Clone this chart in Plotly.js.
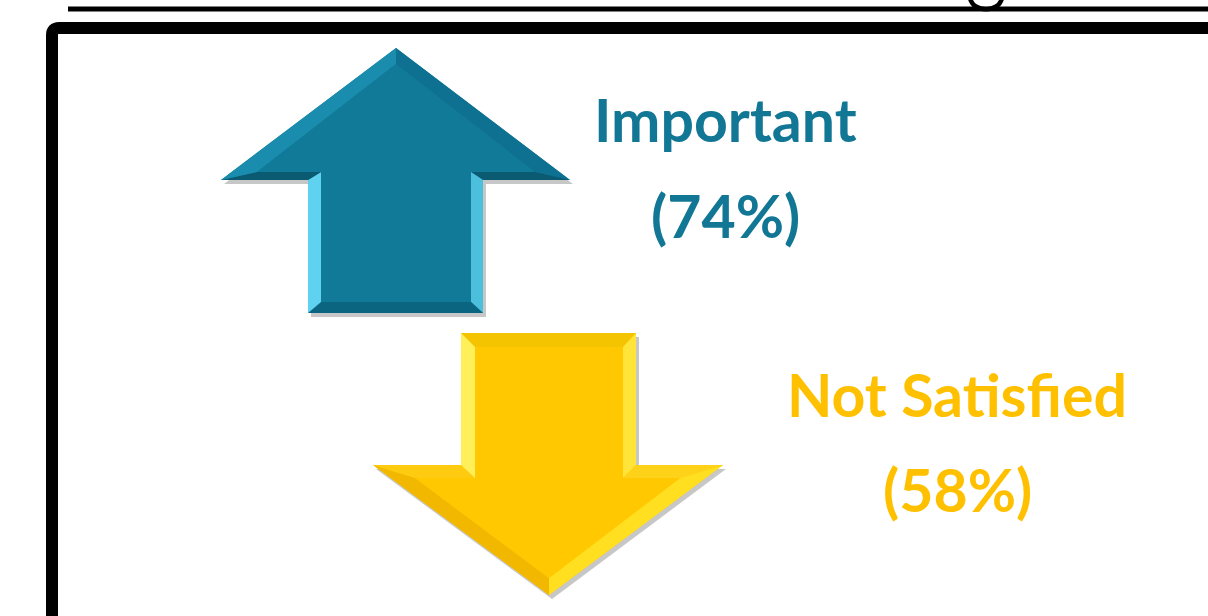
<!DOCTYPE html>
<html>
<head>
<meta charset="utf-8">
<script src="https://cdn.plot.ly/plotly-3.0.1.min.js"></script>
<style>html,body{margin:0;padding:0;background:#fff;}#chart{width:1208px;height:616px;}</style>
</head>
<body>
<div id="chart"></div>
<script>
// ---- data ----
const categories = ["Important", "Not Satisfied"];
const percents = [74, 58];
const directions = ["up", "down"];

// ---- layout / style (pixel space: x 0..1208, y 0..616 top-down) ----
const textColors = ["#127795", "#FFC000"];
const labelX = [725, 957];
const labelY = [119, 394];
const pctY = [215, 489];
const FONT = "Lato, 'Open Sans', sans-serif";
const FONT_SIZE = 59;

// arrow geometry: outer & inner (bevel) polygons
const upOuter = [[396,48],[570,180],[483,180],[483,313],[308,313],[308,180],[221,180]];
const upInner = [[396,64],[535,172],[471,172],[471,302],[321,302],[321,172],[257,172]];
const upFacetColors = ["#0f7191","#0a5a72","#4cbfdc","#0c6580","#5fd2ef","#0a5a72","#1a8cae"];
const upBase = "#117A99";

const dnOuter = [[461,333],[636,333],[636,465],[723,465],[549,595],[373,465],[461,465]];
const dnInner = [[475,347],[623,347],[623,478],[680,478],[549,578],[415,478],[475,478]];
const dnFacetColors = ["#F5C400","#FFE53A","#FFD21A","#FFDF20","#F2B800","#FFCB10","#FFF05A"];
const dnBase = "#FFC800";

function poly(pts, dx=0, dy=0){
  return "M " + pts.map(p => (p[0]+dx)+","+(p[1]+dy)).join(" L ") + " Z";
}
function arrowShapes(outer, inner, colors, base){
  const s = [];
  s.push({type:"path", xref:"x", yref:"y", path: poly(outer,3,4), fillcolor:"rgba(0,0,0,0.22)", line:{width:0}, layer:"above"});
  s.push({type:"path", xref:"x", yref:"y", path: poly(outer), fillcolor:base, line:{width:0}, layer:"above"});
  const n = outer.length;
  for (let i=0;i<n;i++){
    const j=(i+1)%n;
    s.push({type:"path", xref:"x", yref:"y",
      path: poly([outer[i],outer[j],inner[j],inner[i]]),
      fillcolor: colors[i], line:{width:0}, layer:"above"});
  }
  s.push({type:"path", xref:"x", yref:"y", path: poly(inner), fillcolor:base, line:{width:0}, layer:"above"});
  return s;
}

let shapes = [];
// top rule line
shapes.push({type:"line", xref:"x", yref:"y", x0:68, x1:1215, y0:9, y1:9, line:{color:"#000", width:5}, layer:"above"});
// descender of clipped title glyph
shapes.push({type:"path", xref:"x", yref:"y", path:"M 970,-2 C 973,13 999,13 1002,-2", line:{color:"#000", width:4.5}, fillcolor:"rgba(0,0,0,0)", layer:"above"});
// frame
shapes.push({type:"path", xref:"x", yref:"y", path:"M 52,640 L 52,35 Q 52,28 59,28 L 1230,28", line:{color:"#000", width:12}, fillcolor:"rgba(0,0,0,0)", layer:"above"});

directions.forEach(d => {
  if (d === "up") shapes = shapes.concat(arrowShapes(upOuter, upInner, upFacetColors, upBase));
  else shapes = shapes.concat(arrowShapes(dnOuter, dnInner, dnFacetColors, dnBase));
});

const annotations = [];
categories.forEach((c,i) => {
  annotations.push({xref:"x", yref:"y", x:labelX[i], y:labelY[i], text:"<b>"+c+"</b>", showarrow:false,
    xanchor:"center", yanchor:"middle", font:{family:FONT, size:FONT_SIZE, color:textColors[i]}});
  annotations.push({xref:"x", yref:"y", x:labelX[i], y:pctY[i], text:"<b>("+percents[i]+"%)</b>", showarrow:false,
    xanchor:"center", yanchor:"middle", font:{family:FONT, size:FONT_SIZE, color:textColors[i]}});
});

const layout = {
  width:1208, height:616,
  margin:{l:0,r:0,t:0,b:0,pad:0},
  paper_bgcolor:"#ffffff", plot_bgcolor:"#ffffff",
  showlegend:false,
  xaxis:{range:[0,1208], visible:false, fixedrange:true},
  yaxis:{range:[616,0], visible:false, fixedrange:true},
  shapes: shapes,
  annotations: annotations
};

Plotly.newPlot("chart", [{type:"scatter", x:[], y:[], hoverinfo:"skip", showlegend:false}], layout, {staticPlot:true, displayModeBar:false});
</script>
</body>
</html>
